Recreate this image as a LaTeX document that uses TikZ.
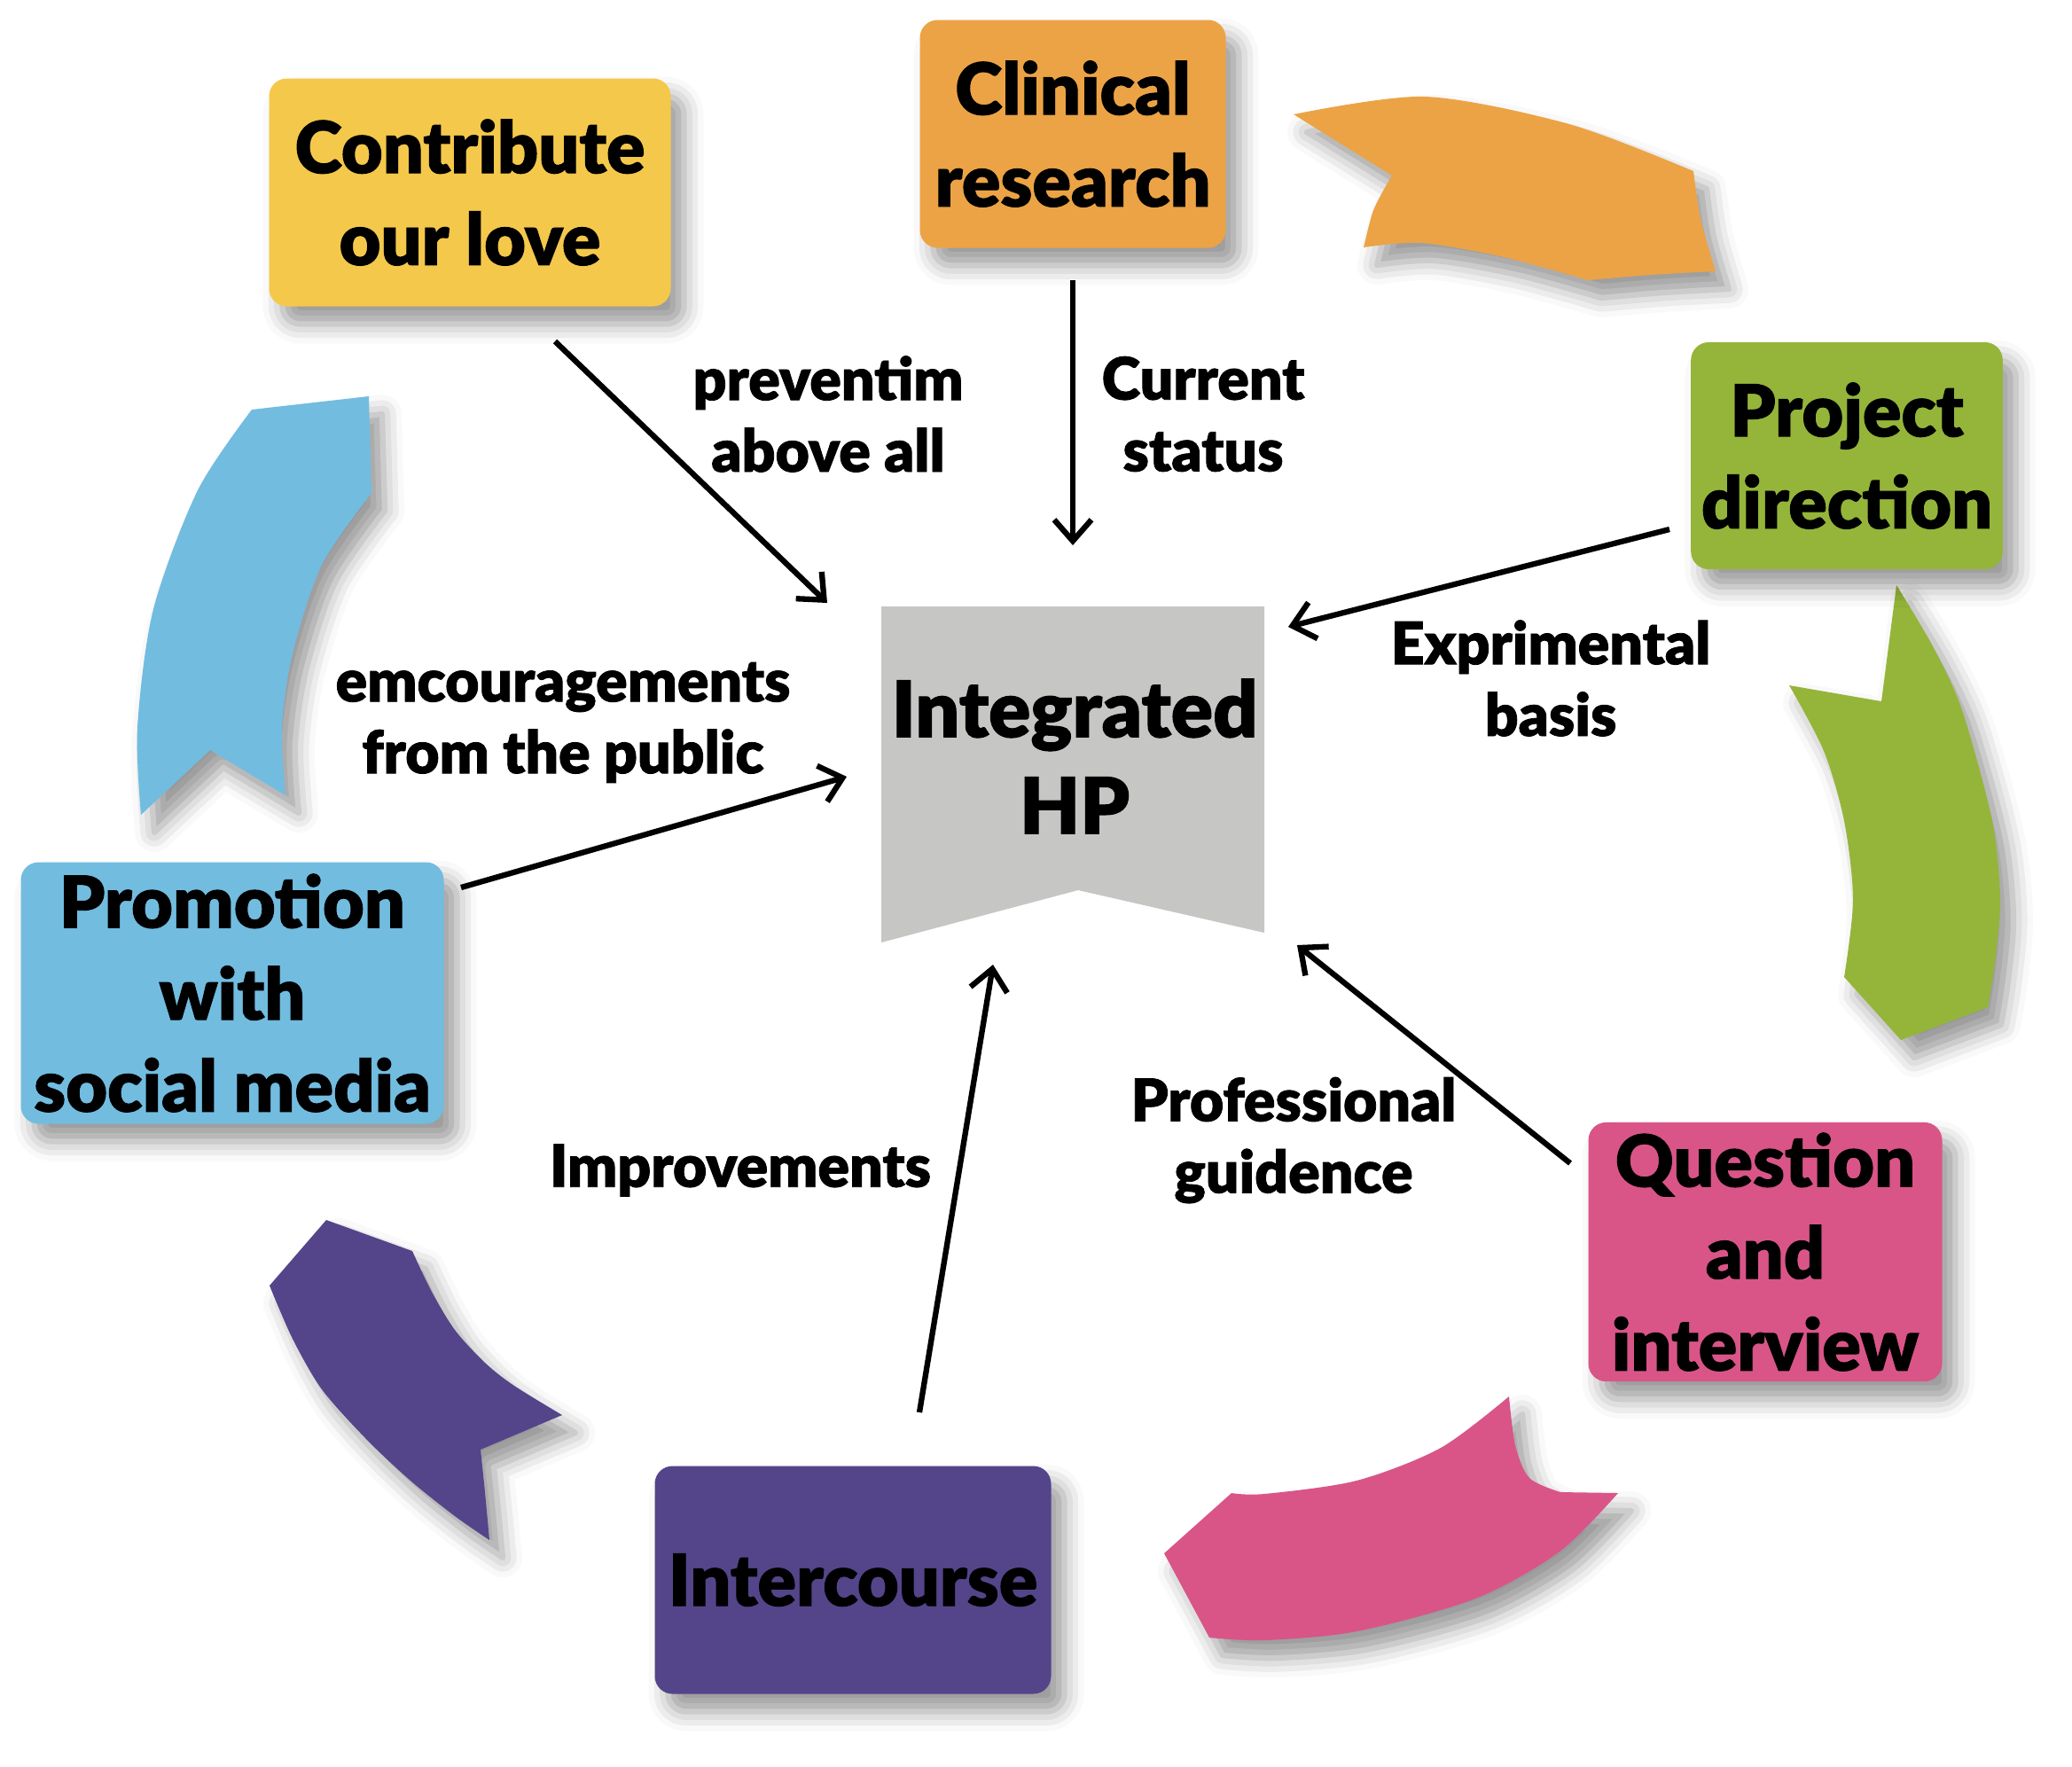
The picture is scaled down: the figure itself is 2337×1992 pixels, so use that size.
\documentclass[tikz,border=0pt]{standalone}
\usepackage{fontspec}
\setmainfont{Lato Black}[FakeBold = 1.2]
\usetikzlibrary{arrows.meta, shadows.blur}

\definecolor{lovecol}{HTML}{F4C84B}
\definecolor{cliniccol}{HTML}{ECA345}
\definecolor{projcol}{HTML}{95B53A}
\definecolor{questcol}{HTML}{D95587}
\definecolor{intercol}{HTML}{54458A}
\definecolor{promocol}{HTML}{72BCE0}
\definecolor{hpcol}{HTML}{C6C6C4}

\begin{document}
\begin{tikzpicture}[x = 0.1mm, y = -0.1mm,
	> = {Straight Barb[length = 2.4mm, width = 4.2mm]},
	softshadow/.style = {blur shadow = {shadow xshift = 1.5mm, shadow yshift = -2mm,
		shadow blur radius = 2.2mm, shadow opacity = 40}},
	box/.style = {rounded corners = 2mm, softshadow, align = center,
		font = \fontsize{23}{29.5}\selectfont},
	ribbon/.style = {softshadow},
	link/.style = {->, line width = 1.8pt},
	lbl/.style = {align = center, font = \fontsize{18.8}{23}\selectfont}]

	\useasboundingbox (0, 0) rectangle (2337, 1992);

	% Ribbons

	\fill [ribbon, cliniccol] plot [smooth] coordinates {(1459, 129) (1607, 109) (1770, 140) (1910, 193)}
		-- plot [smooth] coordinates {(1910, 193) (1918, 247) (1935, 306)}
		-- plot [smooth] coordinates {(1935, 306) (1862, 310) (1791, 316)}
		-- plot [smooth] coordinates {(1791, 316) (1696, 290) (1603, 274) (1538, 279)}
		-- plot [smooth] coordinates {(1538, 279) (1548, 240) (1559, 217) (1570, 198)}
		-- cycle;

	\fill [ribbon, projcol] plot [smooth] coordinates {(2139, 660) (2180, 729) (2213, 801) (2247, 926) (2256, 1015) (2250, 1086) (2242, 1136)}
		-- (2144, 1173) -- (2080, 1102)
		-- plot [smooth] coordinates {(2080, 1102) (2090, 1015) (2080, 926) (2057, 847) (2018, 773)}
		-- (2122, 791) -- cycle;

	\fill [ribbon, questcol] plot [smooth] coordinates {(1702, 1575) (1709, 1630) (1725, 1667) (1760, 1683)}
		-- (1825, 1684)
		-- plot [smooth] coordinates {(1825, 1684) (1759, 1750) (1664, 1803) (1530, 1840) (1426, 1850) (1364, 1847)}
		-- (1313, 1752) -- (1389, 1684)
		-- plot [smooth] coordinates {(1389, 1684) (1426, 1685) (1530, 1670) (1625, 1633) (1702, 1575)}
		-- cycle;

	\fill [ribbon, intercol] (368, 1376) -- (465, 1411)
		-- plot [smooth] coordinates {(465, 1411) (487, 1457) (513, 1500) (547, 1537) (580, 1563) (634, 1596)}
		-- (542, 1635)
		-- plot [smooth] coordinates {(542, 1635) (547, 1683) (552, 1737)}
		-- plot [smooth] coordinates {(552, 1737) (513, 1710) (463, 1670) (413, 1623) (363, 1567) (330, 1510) (304, 1450)}
		-- cycle;

	\fill [ribbon, promocol] (284, 462) -- (416, 447) -- (419, 556)
		-- plot [smooth] coordinates {(419, 556) (363, 637) (330, 737) (318, 820) (322, 897)}
		-- (237, 846) -- (159, 919)
		-- plot [smooth] coordinates {(159, 919) (155, 820) (173, 687) (223, 553) (284, 462)}
		-- cycle;

	% Centre

	\fill [hpcol] (994, 684) -- (1426, 684) -- (1426, 1052) -- (1216, 1004) -- (994, 1063) -- cycle;
	\node [align = center, font = \fontsize{25}{31}\selectfont] (hp) at (1212, 853) {Integrated\\HP};

	% Boxes

	\node [box, fill = lovecol, minimum width = 45.3mm, minimum height = 25.7mm] (love) at (530, 217) {Contribute\\our love};
	\node [box, fill = cliniccol, minimum width = 34.5mm, minimum height = 25.7mm] (clinical) at (1210, 151) {Clinical\\research};
	\node [box, fill = projcol, minimum width = 34.4mm, minimum height = 25.6mm] (project) at (2083, 514) {Project\\direction};
	\node [box, fill = questcol, minimum width = 39.9mm, minimum height = 28.8mm] (question) at (1991, 1412) {Question\\and\\interview};
	\node [box, fill = intercol, minimum width = 44.7mm, minimum height = 25.7mm] (intercourse) at (962, 1782) {Intercourse};
	\node [box, fill = promocol, minimum width = 47.7mm, minimum height = 29.5mm] (promotion) at (262, 1120) {Promotion\\with\\social media};

	% Arrows

	\coordinate (love-out) at (626, 385);
	\coordinate (hp-nw) at (933, 680);
	\coordinate (clinical-out) at (1210, 316);
	\coordinate (hp-n) at (1210, 615);
	\coordinate (project-out) at (1883, 597);
	\coordinate (hp-ne) at (1453, 707);
	\coordinate (promotion-out) at (520, 1001);
	\coordinate (hp-w) at (955, 876);
	\coordinate (intercourse-out) at (1037, 1593);
	\coordinate (hp-s) at (1120, 1088);
	\coordinate (question-out) at (1771, 1312);
	\coordinate (hp-se) at (1463, 1066);

	\draw [link] (love-out) -- (hp-nw);
	\draw [link] (clinical-out) -- (hp-n);
	\draw [link] (project-out) -- (hp-ne);
	\draw [link] (promotion-out) -- (hp-w);
	\draw [link] (intercourse-out) -- (hp-s);
	\draw [link] (question-out) -- (hp-se);

	% Labels

	\node [lbl] (lbl-love) at (934, 467) {preventim\\above all};
	\node [lbl] (lbl-clinical) at (1357, 467) {Current\\status};
	\node [lbl] (lbl-project) at (1749, 765) {Exprimental\\basis};
	\node [lbl] (lbl-promotion) at (635, 815) {emcouragements\\from the public};
	\node [lbl] (lbl-intercourse) at (835, 1320) {Improvements};
	\node [lbl] (lbl-question) at (1459, 1286) {Professional\\guidence};

\end{tikzpicture}
\end{document}
